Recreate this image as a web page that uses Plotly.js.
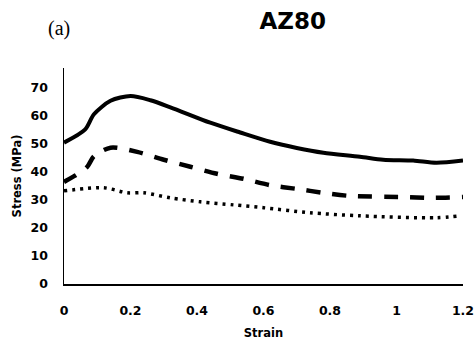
<!DOCTYPE html>
<html><head><meta charset="utf-8">
<script src="https://cdn.plot.ly/plotly-3.0.1.min.js"></script>
<style>html,body{margin:0;padding:0;background:#fff}#chart{width:476px;height:347px}</style>
</head><body><div id="chart"></div>
<script>
// Strain (x) and stress (MPa) values
const solidX = [0, 0.063, 0.09, 0.14, 0.2, 0.26, 0.32, 0.44, 0.53, 0.62, 0.70, 0.78, 0.89, 0.96, 1.05, 1.12, 1.2];
const solidY = [50.4, 55, 60.5, 65.3, 67, 65.5, 63, 57.5, 54, 50.7, 48.5, 46.8, 45.4, 44.3, 44, 43.2, 44];
const dashX = [0, 0.033, 0.07, 0.09, 0.14, 0.22, 0.30, 0.38, 0.46, 0.54, 0.62, 0.70, 0.78, 0.86, 1.02, 1.11, 1.2];
const dashY = [36.4, 38.6, 41.8, 45.5, 48.6, 47.1, 44.3, 41.8, 39.3, 37.5, 35.2, 33.9, 32.5, 31.4, 31, 30.7, 31];
const dotX = [0, 0.12, 0.19, 0.24, 0.32, 0.41, 0.51, 0.6, 0.74, 0.89, 1.12, 1.19];
const dotY = [33.2, 34.3, 32.5, 32.5, 30.7, 29.3, 28.2, 27.2, 25.4, 24.3, 23.6, 24.3];
const xTicks = [0, 0.2, 0.4, 0.6, 0.8, 1, 1.2];
const yTicks = [0, 10, 20, 30, 40, 50, 60, 70];

const traces = [
  {x: solidX, y: solidY, mode: 'lines', line: {color: '#000', width: 4, shape: 'spline', smoothing: 0.8}},
  {x: dashX, y: dashY, mode: 'lines', line: {color: '#000', width: 4.5, shape: 'spline', smoothing: 0.8, dash: '14px,12px'}},
  {x: dotX, y: dotY, mode: 'lines', line: {color: '#000', width: 3.5, shape: 'spline', smoothing: 0.8, dash: '3px,5px'}}
];
const tickFont = {family: 'DejaVu Sans', size: 12.5, color: '#000', weight: 'bold'};
const layout = {
  width: 476, height: 347,
  margin: {l: 64, r: 13, t: 68, b: 63},
  paper_bgcolor: '#fff', plot_bgcolor: '#fff',
  showlegend: false,
  title: {text: '<b>AZ80</b>', font: {family: 'DejaVu Sans', size: 23, color: '#000'}, x: 0.615, xanchor: 'center', y: 0.94, yanchor: 'middle'},
  xaxis: {range: [0, 1.2], tickvals: xTicks, ticktext: xTicks.map(String), showgrid: false, zeroline: false,
    showline: true, linecolor: '#000', linewidth: 1.5, ticks: '', ticklabelstandoff: 14, tickfont: tickFont,
    title: {text: '<b>Strain</b>', font: {family: 'DejaVu Sans', size: 11.5, color: '#000'}, standoff: 12}},
  yaxis: {range: [0, 77], tickvals: yTicks, ticktext: yTicks.map(String), showgrid: false, zeroline: false,
    showline: true, linecolor: '#000', linewidth: 1.5, ticks: '', ticklabelstandoff: 12, tickfont: tickFont,
    title: {text: '<b>Stress (MPa)</b>', font: {family: 'DejaVu Sans', size: 11.5, color: '#000'}, standoff: 6}},
  annotations: [{text: '(a)', xref: 'paper', yref: 'paper', x: -0.0125, y: 1.185, xanchor: 'center', yanchor: 'middle',
    showarrow: false, font: {family: 'Liberation Serif', size: 20, color: '#000'}}]
};
Plotly.newPlot('chart', traces, layout, {displayModeBar: false, staticPlot: true});
</script></body></html>
